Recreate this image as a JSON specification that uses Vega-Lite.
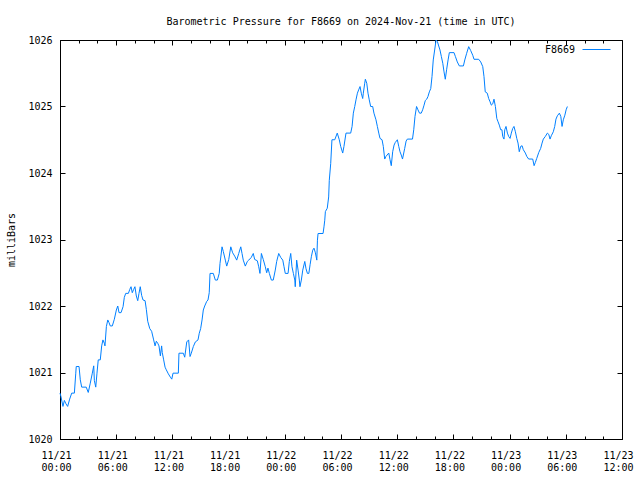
{
  "$schema": "https://vega.github.io/schema/vega-lite/v6.json",
  "width": 562,
  "height": 399,
  "autosize": {"type": "none"},
  "padding": {"left": 60, "top": 40, "right": 18, "bottom": 41},
  "background": "white",
  "title": {"text": "Barometric Pressure for F8669 on 2024-Nov-21 (time in UTC)", "font": "DejaVu Sans Mono", "fontSize": 10, "fontWeight": "normal", "color": "black", "anchor": "middle", "baseline": "alphabetic", "offset": 0},
  "config": {
    "view": {"stroke": "black", "strokeWidth": 1},
    "axis": {"grid": false, "labelFont": "DejaVu Sans Mono", "labelFontSize": 10, "labelColor": "black", "tickColor": "black", "domainColor": "black", "titleFont": "DejaVu Sans Mono", "titleFontSize": 10, "titleFontWeight": "normal", "titleColor": "black", "tickWidth": 1, "domainWidth": 1}
  },
  "data": {"values": [
    {"t":"2024-11-21T00:00Z","p":1020.69},{"t":"2024-11-21T00:06Z","p":1020.64},{"t":"2024-11-21T00:19Z","p":1020.49},{"t":"2024-11-21T00:28Z","p":1020.58},{"t":"2024-11-21T00:38Z","p":1020.53},{"t":"2024-11-21T00:49Z","p":1020.49},{"t":"2024-11-21T01:02Z","p":1020.60},{"t":"2024-11-21T01:15Z","p":1020.69},{"t":"2024-11-21T01:32Z","p":1020.69},{"t":"2024-11-21T01:41Z","p":1020.99},{"t":"2024-11-21T01:44Z","p":1021.09},{"t":"2024-11-21T02:02Z","p":1021.09},{"t":"2024-11-21T02:10Z","p":1020.89},{"t":"2024-11-21T02:19Z","p":1020.78},{"t":"2024-11-21T02:48Z","p":1020.78},{"t":"2024-11-21T03:01Z","p":1020.70},{"t":"2024-11-21T03:14Z","p":1020.84},{"t":"2024-11-21T03:27Z","p":1020.99},{"t":"2024-11-21T03:36Z","p":1021.10},{"t":"2024-11-21T03:40Z","p":1020.88},{"t":"2024-11-21T03:49Z","p":1020.78},{"t":"2024-11-21T03:57Z","p":1020.99},{"t":"2024-11-21T04:05Z","p":1021.19},{"t":"2024-11-21T04:18Z","p":1021.19},{"t":"2024-11-21T04:27Z","p":1021.40},{"t":"2024-11-21T04:35Z","p":1021.49},{"t":"2024-11-21T04:44Z","p":1021.44},{"t":"2024-11-21T04:48Z","p":1021.40},{"t":"2024-11-21T04:57Z","p":1021.69},{"t":"2024-11-21T05:06Z","p":1021.79},{"t":"2024-11-21T05:14Z","p":1021.75},{"t":"2024-11-21T05:22Z","p":1021.70},{"t":"2024-11-21T05:35Z","p":1021.70},{"t":"2024-11-21T05:48Z","p":1021.80},{"t":"2024-11-21T06:01Z","p":1021.94},{"t":"2024-11-21T06:10Z","p":1022.00},{"t":"2024-11-21T06:18Z","p":1021.90},{"t":"2024-11-21T06:31Z","p":1021.90},{"t":"2024-11-21T06:44Z","p":1021.99},{"t":"2024-11-21T06:52Z","p":1022.13},{"t":"2024-11-21T07:01Z","p":1022.19},{"t":"2024-11-21T07:18Z","p":1022.19},{"t":"2024-11-21T07:27Z","p":1022.25},{"t":"2024-11-21T07:35Z","p":1022.29},{"t":"2024-11-21T07:43Z","p":1022.20},{"t":"2024-11-21T07:52Z","p":1022.25},{"t":"2024-11-21T08:00Z","p":1022.29},{"t":"2024-11-21T08:09Z","p":1022.15},{"t":"2024-11-21T08:18Z","p":1022.08},{"t":"2024-11-21T08:26Z","p":1022.19},{"t":"2024-11-21T08:34Z","p":1022.29},{"t":"2024-11-21T08:43Z","p":1022.16},{"t":"2024-11-21T08:52Z","p":1022.09},{"t":"2024-11-21T09:05Z","p":1022.08},{"t":"2024-11-21T09:13Z","p":1021.95},{"t":"2024-11-21T09:22Z","p":1021.77},{"t":"2024-11-21T09:35Z","p":1021.66},{"t":"2024-11-21T09:47Z","p":1021.62},{"t":"2024-11-21T10:00Z","p":1021.49},{"t":"2024-11-21T10:09Z","p":1021.40},{"t":"2024-11-21T10:17Z","p":1021.47},{"t":"2024-11-21T10:26Z","p":1021.44},{"t":"2024-11-21T10:34Z","p":1021.40},{"t":"2024-11-21T10:43Z","p":1021.25},{"t":"2024-11-21T10:51Z","p":1021.40},{"t":"2024-11-21T10:55Z","p":1021.30},{"t":"2024-11-21T11:04Z","p":1021.19},{"t":"2024-11-21T11:13Z","p":1021.08},{"t":"2024-11-21T11:21Z","p":1021.04},{"t":"2024-11-21T11:34Z","p":1020.98},{"t":"2024-11-21T11:47Z","p":1020.93},{"t":"2024-11-21T11:56Z","p":1020.90},{"t":"2024-11-21T12:04Z","p":1020.99},{"t":"2024-11-21T12:38Z","p":1020.99},{"t":"2024-11-21T12:42Z","p":1021.29},{"t":"2024-11-21T13:10Z","p":1021.29},{"t":"2024-11-21T13:19Z","p":1021.23},{"t":"2024-11-21T13:32Z","p":1021.46},{"t":"2024-11-21T13:44Z","p":1021.49},{"t":"2024-11-21T13:53Z","p":1021.24},{"t":"2024-11-21T14:01Z","p":1021.29},{"t":"2024-11-21T14:14Z","p":1021.39},{"t":"2024-11-21T14:27Z","p":1021.46},{"t":"2024-11-21T14:44Z","p":1021.49},{"t":"2024-11-21T14:52Z","p":1021.59},{"t":"2024-11-21T15:01Z","p":1021.66},{"t":"2024-11-21T15:10Z","p":1021.79},{"t":"2024-11-21T15:18Z","p":1021.94},{"t":"2024-11-21T15:27Z","p":1022.00},{"t":"2024-11-21T15:40Z","p":1022.07},{"t":"2024-11-21T15:48Z","p":1022.09},{"t":"2024-11-21T15:56Z","p":1022.20},{"t":"2024-11-21T16:01Z","p":1022.49},{"t":"2024-11-21T16:22Z","p":1022.49},{"t":"2024-11-21T16:35Z","p":1022.39},{"t":"2024-11-21T16:48Z","p":1022.39},{"t":"2024-11-21T17:00Z","p":1022.49},{"t":"2024-11-21T17:05Z","p":1022.64},{"t":"2024-11-21T17:18Z","p":1022.89},{"t":"2024-11-21T17:26Z","p":1022.82},{"t":"2024-11-21T17:39Z","p":1022.69},{"t":"2024-11-21T17:48Z","p":1022.60},{"t":"2024-11-21T18:01Z","p":1022.70},{"t":"2024-11-21T18:14Z","p":1022.89},{"t":"2024-11-21T18:26Z","p":1022.80},{"t":"2024-11-21T18:39Z","p":1022.75},{"t":"2024-11-21T18:52Z","p":1022.69},{"t":"2024-11-21T19:05Z","p":1022.79},{"t":"2024-11-21T19:18Z","p":1022.89},{"t":"2024-11-21T19:26Z","p":1022.79},{"t":"2024-11-21T19:34Z","p":1022.69},{"t":"2024-11-21T19:47Z","p":1022.60},{"t":"2024-11-21T20:00Z","p":1022.67},{"t":"2024-11-21T20:09Z","p":1022.69},{"t":"2024-11-21T20:25Z","p":1022.73},{"t":"2024-11-21T20:38Z","p":1022.79},{"t":"2024-11-21T20:47Z","p":1022.70},{"t":"2024-11-21T21:04Z","p":1022.68},{"t":"2024-11-21T21:13Z","p":1022.59},{"t":"2024-11-21T21:21Z","p":1022.49},{"t":"2024-11-21T21:30Z","p":1022.79},{"t":"2024-11-21T21:42Z","p":1022.70},{"t":"2024-11-21T21:55Z","p":1022.59},{"t":"2024-11-21T22:04Z","p":1022.50},{"t":"2024-11-21T22:12Z","p":1022.57},{"t":"2024-11-21T22:21Z","p":1022.49},{"t":"2024-11-21T22:34Z","p":1022.39},{"t":"2024-11-21T22:46Z","p":1022.39},{"t":"2024-11-21T22:59Z","p":1022.54},{"t":"2024-11-21T23:08Z","p":1022.67},{"t":"2024-11-21T23:21Z","p":1022.79},{"t":"2024-11-21T23:34Z","p":1022.73},{"t":"2024-11-21T23:47Z","p":1022.69},{"t":"2024-11-21T23:55Z","p":1022.59},
    {"t":"2024-11-22T00:03Z","p":1022.49},{"t":"2024-11-22T00:21Z","p":1022.49},{"t":"2024-11-22T00:29Z","p":1022.67},{"t":"2024-11-22T00:38Z","p":1022.79},{"t":"2024-11-22T00:46Z","p":1022.59},{"t":"2024-11-22T00:55Z","p":1022.49},{"t":"2024-11-22T01:04Z","p":1022.39},{"t":"2024-11-22T01:07Z","p":1022.29},{"t":"2024-11-22T01:16Z","p":1022.69},{"t":"2024-11-22T01:25Z","p":1022.54},{"t":"2024-11-22T01:33Z","p":1022.39},{"t":"2024-11-22T01:37Z","p":1022.29},{"t":"2024-11-22T01:46Z","p":1022.39},{"t":"2024-11-22T01:55Z","p":1022.54},{"t":"2024-11-22T02:08Z","p":1022.67},{"t":"2024-11-22T02:16Z","p":1022.56},{"t":"2024-11-22T02:25Z","p":1022.49},{"t":"2024-11-22T02:34Z","p":1022.49},{"t":"2024-11-22T02:42Z","p":1022.62},{"t":"2024-11-22T02:50Z","p":1022.74},{"t":"2024-11-22T02:59Z","p":1022.84},{"t":"2024-11-22T03:07Z","p":1022.87},{"t":"2024-11-22T03:16Z","p":1022.80},{"t":"2024-11-22T03:25Z","p":1022.69},{"t":"2024-11-22T03:29Z","p":1022.99},{"t":"2024-11-22T03:33Z","p":1023.09},{"t":"2024-11-22T04:05Z","p":1023.09},{"t":"2024-11-22T04:11Z","p":1023.19},{"t":"2024-11-22T04:16Z","p":1023.29},{"t":"2024-11-22T04:20Z","p":1023.42},{"t":"2024-11-22T04:32Z","p":1023.47},{"t":"2024-11-22T04:41Z","p":1023.64},{"t":"2024-11-22T04:45Z","p":1023.89},{"t":"2024-11-22T04:54Z","p":1024.14},{"t":"2024-11-22T05:02Z","p":1024.50},{"t":"2024-11-22T05:20Z","p":1024.50},{"t":"2024-11-22T05:36Z","p":1024.60},{"t":"2024-11-22T05:49Z","p":1024.50},{"t":"2024-11-22T05:58Z","p":1024.40},{"t":"2024-11-22T06:11Z","p":1024.30},{"t":"2024-11-22T06:19Z","p":1024.40},{"t":"2024-11-22T06:32Z","p":1024.60},{"t":"2024-11-22T07:02Z","p":1024.60},{"t":"2024-11-22T07:11Z","p":1024.70},{"t":"2024-11-22T07:19Z","p":1024.90},{"t":"2024-11-22T07:28Z","p":1025.00},{"t":"2024-11-22T07:36Z","p":1025.10},{"t":"2024-11-22T07:45Z","p":1025.20},{"t":"2024-11-22T07:53Z","p":1025.25},{"t":"2024-11-22T08:02Z","p":1025.30},{"t":"2024-11-22T08:10Z","p":1025.20},{"t":"2024-11-22T08:19Z","p":1025.12},{"t":"2024-11-22T08:23Z","p":1025.20},{"t":"2024-11-22T08:32Z","p":1025.35},{"t":"2024-11-22T08:36Z","p":1025.41},{"t":"2024-11-22T08:45Z","p":1025.35},{"t":"2024-11-22T08:53Z","p":1025.20},{"t":"2024-11-22T09:01Z","p":1025.10},{"t":"2024-11-22T09:10Z","p":1025.00},{"t":"2024-11-22T09:23Z","p":1025.00},{"t":"2024-11-22T09:31Z","p":1024.90},{"t":"2024-11-22T09:44Z","p":1024.80},{"t":"2024-11-22T09:53Z","p":1024.70},{"t":"2024-11-22T10:02Z","p":1024.60},{"t":"2024-11-22T10:10Z","p":1024.52},{"t":"2024-11-22T10:23Z","p":1024.50},{"t":"2024-11-22T10:31Z","p":1024.40},{"t":"2024-11-22T10:40Z","p":1024.21},{"t":"2024-11-22T10:48Z","p":1024.25},{"t":"2024-11-22T11:06Z","p":1024.30},{"t":"2024-11-22T11:14Z","p":1024.20},{"t":"2024-11-22T11:22Z","p":1024.11},{"t":"2024-11-22T11:31Z","p":1024.32},{"t":"2024-11-22T11:40Z","p":1024.42},{"t":"2024-11-22T11:48Z","p":1024.46},{"t":"2024-11-22T12:01Z","p":1024.50},{"t":"2024-11-22T12:10Z","p":1024.40},{"t":"2024-11-22T12:18Z","p":1024.32},{"t":"2024-11-22T12:26Z","p":1024.27},{"t":"2024-11-22T12:34Z","p":1024.21},{"t":"2024-11-22T12:48Z","p":1024.37},{"t":"2024-11-22T12:57Z","p":1024.48},{"t":"2024-11-22T13:05Z","p":1024.51},{"t":"2024-11-22T13:38Z","p":1024.51},{"t":"2024-11-22T13:46Z","p":1024.65},{"t":"2024-11-22T13:54Z","p":1024.85},{"t":"2024-11-22T14:04Z","p":1025.00},{"t":"2024-11-22T14:13Z","p":1024.95},{"t":"2024-11-22T14:23Z","p":1024.90},{"t":"2024-11-22T14:34Z","p":1024.90},{"t":"2024-11-22T14:43Z","p":1024.95},{"t":"2024-11-22T14:52Z","p":1025.02},{"t":"2024-11-22T15:00Z","p":1025.09},{"t":"2024-11-22T15:09Z","p":1025.11},{"t":"2024-11-22T15:17Z","p":1025.15},{"t":"2024-11-22T15:26Z","p":1025.22},{"t":"2024-11-22T15:35Z","p":1025.27},{"t":"2024-11-22T15:43Z","p":1025.45},{"t":"2024-11-22T15:51Z","p":1025.70},{"t":"2024-11-22T16:00Z","p":1025.85},{"t":"2024-11-22T16:09Z","p":1026.00},{"t":"2024-11-22T16:17Z","p":1025.98},{"t":"2024-11-22T16:26Z","p":1025.91},{"t":"2024-11-22T16:34Z","p":1025.85},{"t":"2024-11-22T16:43Z","p":1025.75},{"t":"2024-11-22T16:52Z","p":1025.65},{"t":"2024-11-22T17:00Z","p":1025.52},{"t":"2024-11-22T17:08Z","p":1025.41},{"t":"2024-11-22T17:17Z","p":1025.56},{"t":"2024-11-22T17:26Z","p":1025.70},{"t":"2024-11-22T17:34Z","p":1025.81},{"t":"2024-11-22T18:04Z","p":1025.81},{"t":"2024-11-22T18:13Z","p":1025.75},{"t":"2024-11-22T18:25Z","p":1025.67},{"t":"2024-11-22T18:38Z","p":1025.61},{"t":"2024-11-22T19:04Z","p":1025.61},{"t":"2024-11-22T19:13Z","p":1025.70},{"t":"2024-11-22T19:25Z","p":1025.80},{"t":"2024-11-22T19:38Z","p":1025.90},{"t":"2024-11-22T19:51Z","p":1025.84},{"t":"2024-11-22T20:04Z","p":1025.77},{"t":"2024-11-22T20:12Z","p":1025.71},{"t":"2024-11-22T20:42Z","p":1025.71},{"t":"2024-11-22T20:55Z","p":1025.67},{"t":"2024-11-22T21:08Z","p":1025.60},{"t":"2024-11-22T21:16Z","p":1025.45},{"t":"2024-11-22T21:24Z","p":1025.22},{"t":"2024-11-22T21:37Z","p":1025.20},{"t":"2024-11-22T21:46Z","p":1025.12},{"t":"2024-11-22T21:55Z","p":1025.07},{"t":"2024-11-22T22:03Z","p":1025.02},{"t":"2024-11-22T22:12Z","p":1025.04},{"t":"2024-11-22T22:20Z","p":1025.11},{"t":"2024-11-22T22:29Z","p":1025.00},{"t":"2024-11-22T22:38Z","p":1024.82},{"t":"2024-11-22T22:46Z","p":1024.77},{"t":"2024-11-22T22:54Z","p":1024.72},{"t":"2024-11-22T23:03Z","p":1024.65},{"t":"2024-11-22T23:11Z","p":1024.65},{"t":"2024-11-22T23:16Z","p":1024.55},{"t":"2024-11-22T23:24Z","p":1024.51},{"t":"2024-11-22T23:29Z","p":1024.65},{"t":"2024-11-22T23:37Z","p":1024.70},{"t":"2024-11-22T23:46Z","p":1024.60},{"t":"2024-11-22T23:54Z","p":1024.55},
    {"t":"2024-11-23T00:03Z","p":1024.52},{"t":"2024-11-23T00:11Z","p":1024.60},{"t":"2024-11-23T00:20Z","p":1024.67},{"t":"2024-11-23T00:28Z","p":1024.70},{"t":"2024-11-23T00:37Z","p":1024.62},{"t":"2024-11-23T00:46Z","p":1024.52},{"t":"2024-11-23T00:54Z","p":1024.45},{"t":"2024-11-23T01:02Z","p":1024.32},{"t":"2024-11-23T01:11Z","p":1024.40},{"t":"2024-11-23T01:20Z","p":1024.41},{"t":"2024-11-23T01:28Z","p":1024.35},{"t":"2024-11-23T01:41Z","p":1024.30},{"t":"2024-11-23T01:50Z","p":1024.25},{"t":"2024-11-23T02:02Z","p":1024.21},{"t":"2024-11-23T02:28Z","p":1024.21},{"t":"2024-11-23T02:37Z","p":1024.11},{"t":"2024-11-23T02:45Z","p":1024.16},{"t":"2024-11-23T02:54Z","p":1024.22},{"t":"2024-11-23T03:07Z","p":1024.31},{"t":"2024-11-23T03:19Z","p":1024.37},{"t":"2024-11-23T03:28Z","p":1024.45},{"t":"2024-11-23T03:36Z","p":1024.51},{"t":"2024-11-23T03:49Z","p":1024.55},{"t":"2024-11-23T04:02Z","p":1024.60},{"t":"2024-11-23T04:11Z","p":1024.58},{"t":"2024-11-23T04:19Z","p":1024.51},{"t":"2024-11-23T04:27Z","p":1024.56},{"t":"2024-11-23T04:40Z","p":1024.62},{"t":"2024-11-23T04:49Z","p":1024.70},{"t":"2024-11-23T04:57Z","p":1024.81},{"t":"2024-11-23T05:06Z","p":1024.86},{"t":"2024-11-23T05:19Z","p":1024.90},{"t":"2024-11-23T05:28Z","p":1024.85},{"t":"2024-11-23T05:36Z","p":1024.70},{"t":"2024-11-23T05:44Z","p":1024.80},{"t":"2024-11-23T05:54Z","p":1024.87},{"t":"2024-11-23T06:02Z","p":1024.95},{"t":"2024-11-23T06:10Z","p":1025.00}
  ]},
  "layer": [
    {
      "mark": {"type": "line", "strokeWidth": 1, "interpolate": "linear"},
      "encoding": {
        "x": {"field": "t", "type": "temporal",
          "scale": {"type": "utc", "domain": [{"year": 2024, "month": 11, "date": 21, "utc": true}, {"year": 2024, "month": 11, "date": 23, "hours": 12, "utc": true}]},
          "axis": {"orient": "bottom", "title": null, "tickSize": -5, "labelPadding": 16, "labelAlign": "center", "labelBaseline": "top", "labelLineHeight": 12, "labelFlush": false, "labelOverlap": false, "labelOffset": -4,
            "values": [
              {"year": 2024, "month": 11, "date": 21, "hours": 0, "utc": true},
              {"year": 2024, "month": 11, "date": 21, "hours": 6, "utc": true},
              {"year": 2024, "month": 11, "date": 21, "hours": 12, "utc": true},
              {"year": 2024, "month": 11, "date": 21, "hours": 18, "utc": true},
              {"year": 2024, "month": 11, "date": 22, "hours": 0, "utc": true},
              {"year": 2024, "month": 11, "date": 22, "hours": 6, "utc": true},
              {"year": 2024, "month": 11, "date": 22, "hours": 12, "utc": true},
              {"year": 2024, "month": 11, "date": 22, "hours": 18, "utc": true},
              {"year": 2024, "month": 11, "date": 23, "hours": 0, "utc": true},
              {"year": 2024, "month": 11, "date": 23, "hours": 6, "utc": true},
              {"year": 2024, "month": 11, "date": 23, "hours": 12, "utc": true}
            ],
            "labelExpr": "[utcFormat(datum.value, '%m/%d'), utcFormat(datum.value, '%H:%M')]"}},
        "y": {"field": "p", "type": "quantitative",
          "scale": {"domain": [1020, 1026], "nice": false, "zero": false},
          "axis": {"orient": "left", "values": [1020, 1021, 1022, 1023, 1024, 1025, 1026], "tickSize": -5, "labelPadding": 13, "title": "milliBars", "titlePadding": 11, "format": "d"}},
        "color": {"datum": "F8669", "type": "nominal", "scale": {"range": ["#0080ff"]},
          "legend": {"orient": "none", "legendX": 522, "legendY": -5, "title": null, "symbolType": "stroke", "symbolSize": 784, "symbolStrokeWidth": 1, "labelAlign": "right", "labelOffset": -36, "labelFont": "DejaVu Sans Mono", "labelFontSize": 10, "labelColor": "black", "padding": 0}}
      }
    },
    {
      "mark": {"type": "line", "strokeOpacity": 0},
      "encoding": {
        "x": {"field": "t", "type": "temporal", "axis": {"orient": "top", "title": null, "labels": false, "domain": false, "tickSize": -5,
            "values": [
              {"year": 2024, "month": 11, "date": 21, "hours": 0, "utc": true},
              {"year": 2024, "month": 11, "date": 21, "hours": 6, "utc": true},
              {"year": 2024, "month": 11, "date": 21, "hours": 12, "utc": true},
              {"year": 2024, "month": 11, "date": 21, "hours": 18, "utc": true},
              {"year": 2024, "month": 11, "date": 22, "hours": 0, "utc": true},
              {"year": 2024, "month": 11, "date": 22, "hours": 6, "utc": true},
              {"year": 2024, "month": 11, "date": 22, "hours": 12, "utc": true},
              {"year": 2024, "month": 11, "date": 22, "hours": 18, "utc": true},
              {"year": 2024, "month": 11, "date": 23, "hours": 0, "utc": true},
              {"year": 2024, "month": 11, "date": 23, "hours": 6, "utc": true},
              {"year": 2024, "month": 11, "date": 23, "hours": 12, "utc": true}
            ]}},
        "y": {"field": "p", "type": "quantitative", "axis": {"orient": "right", "title": null, "labels": false, "domain": false, "tickSize": -5, "values": [1020, 1021, 1022, 1023, 1024, 1025, 1026]}}
      }
    },
    {
      "mark": {"type": "line", "strokeOpacity": 0},
      "encoding": {
        "x": {"field": "t", "type": "temporal", "axis": {"orient": "bottom", "title": null, "labels": false, "domain": false, "tickSize": -3,
            "values": [
              {"year": 2024, "month": 11, "date": 21, "hours": 2, "utc": true},
              {"year": 2024, "month": 11, "date": 21, "hours": 4, "utc": true},
              {"year": 2024, "month": 11, "date": 21, "hours": 8, "utc": true},
              {"year": 2024, "month": 11, "date": 21, "hours": 10, "utc": true},
              {"year": 2024, "month": 11, "date": 21, "hours": 14, "utc": true},
              {"year": 2024, "month": 11, "date": 21, "hours": 16, "utc": true},
              {"year": 2024, "month": 11, "date": 21, "hours": 20, "utc": true},
              {"year": 2024, "month": 11, "date": 21, "hours": 22, "utc": true},
              {"year": 2024, "month": 11, "date": 22, "hours": 2, "utc": true},
              {"year": 2024, "month": 11, "date": 22, "hours": 4, "utc": true},
              {"year": 2024, "month": 11, "date": 22, "hours": 8, "utc": true},
              {"year": 2024, "month": 11, "date": 22, "hours": 10, "utc": true},
              {"year": 2024, "month": 11, "date": 22, "hours": 14, "utc": true},
              {"year": 2024, "month": 11, "date": 22, "hours": 16, "utc": true},
              {"year": 2024, "month": 11, "date": 22, "hours": 20, "utc": true},
              {"year": 2024, "month": 11, "date": 22, "hours": 22, "utc": true},
              {"year": 2024, "month": 11, "date": 23, "hours": 2, "utc": true},
              {"year": 2024, "month": 11, "date": 23, "hours": 4, "utc": true},
              {"year": 2024, "month": 11, "date": 23, "hours": 8, "utc": true},
              {"year": 2024, "month": 11, "date": 23, "hours": 10, "utc": true}
            ]}},
        "y": {"field": "p", "type": "quantitative", "axis": null}
      }
    },
    {
      "mark": {"type": "line", "strokeOpacity": 0},
      "encoding": {
        "x": {"field": "t", "type": "temporal", "axis": {"orient": "top", "title": null, "labels": false, "domain": false, "tickSize": -3,
            "values": [
              {"year": 2024, "month": 11, "date": 21, "hours": 2, "utc": true},
              {"year": 2024, "month": 11, "date": 21, "hours": 4, "utc": true},
              {"year": 2024, "month": 11, "date": 21, "hours": 8, "utc": true},
              {"year": 2024, "month": 11, "date": 21, "hours": 10, "utc": true},
              {"year": 2024, "month": 11, "date": 21, "hours": 14, "utc": true},
              {"year": 2024, "month": 11, "date": 21, "hours": 16, "utc": true},
              {"year": 2024, "month": 11, "date": 21, "hours": 20, "utc": true},
              {"year": 2024, "month": 11, "date": 21, "hours": 22, "utc": true},
              {"year": 2024, "month": 11, "date": 22, "hours": 2, "utc": true},
              {"year": 2024, "month": 11, "date": 22, "hours": 4, "utc": true},
              {"year": 2024, "month": 11, "date": 22, "hours": 8, "utc": true},
              {"year": 2024, "month": 11, "date": 22, "hours": 10, "utc": true},
              {"year": 2024, "month": 11, "date": 22, "hours": 14, "utc": true},
              {"year": 2024, "month": 11, "date": 22, "hours": 16, "utc": true},
              {"year": 2024, "month": 11, "date": 22, "hours": 20, "utc": true},
              {"year": 2024, "month": 11, "date": 22, "hours": 22, "utc": true},
              {"year": 2024, "month": 11, "date": 23, "hours": 2, "utc": true},
              {"year": 2024, "month": 11, "date": 23, "hours": 4, "utc": true},
              {"year": 2024, "month": 11, "date": 23, "hours": 8, "utc": true},
              {"year": 2024, "month": 11, "date": 23, "hours": 10, "utc": true}
            ]}},
        "y": {"field": "p", "type": "quantitative", "axis": null}
      }
    }
  ],
  "resolve": {"axis": {"x": "independent", "y": "independent"}}
}
